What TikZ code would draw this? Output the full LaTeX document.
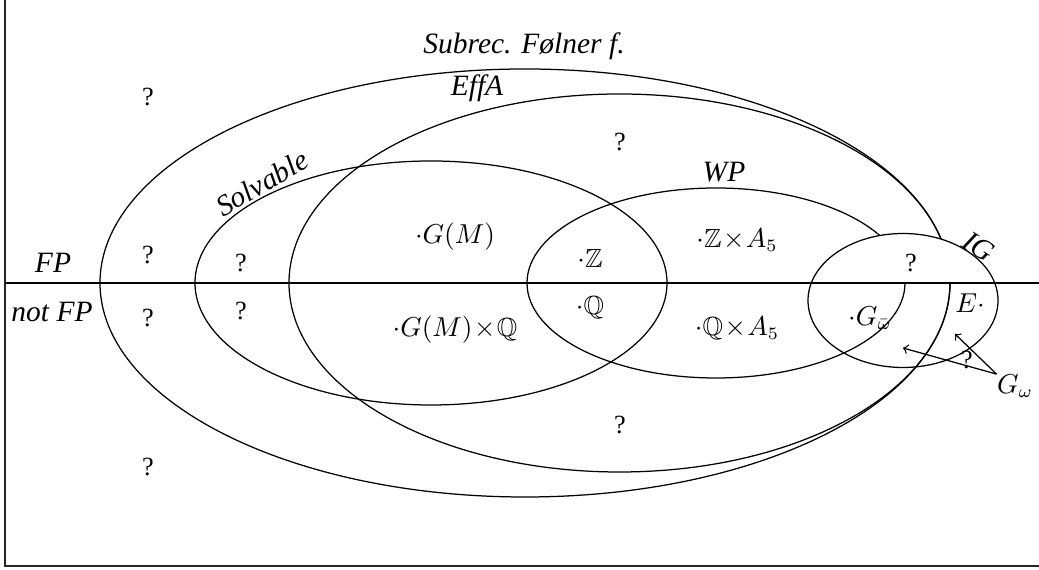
\documentclass[tikz,border=0pt]{standalone}
\usepackage{amssymb}
\usepackage{fontspec}
\setmainfont{Liberation Serif}
\begin{document}
\begin{tikzpicture}[x=0.4pt,y=-0.4pt,
  set/.style={line width=0.5pt},
  lbl/.style={font=\fontsize{11.8}{13}\selectfont\itshape, inner sep=0pt},
  qm/.style={font=\fontsize{10.5}{12}\selectfont, inner sep=0pt},
  elem/.style={font=\fontsize{10.5}{12}\selectfont, inner sep=0pt},
  frameline/.style={line width=0.7pt, draw=black!85}]
\useasboundingbox (0,0) rectangle (1039,570);
% frame
\coordinate (ftl) at (5,0);
\coordinate (fbl) at (5,566);
\coordinate (fbr) at (1039,566);
\draw[frameline] (ftl) -- (fbl) -- (fbr);
% sets
\draw[set] (525,283) ellipse [x radius=425, y radius=214];
\draw[set] (619.5,283) ellipse [x radius=330.5, y radius=189];
\draw[set] (431,283) ellipse [x radius=236, y radius=122];
\draw[set] (716,283) ellipse [x radius=189, y radius=95];
% upper half of IG blanked
\begin{scope}
  \clip (0,0) rectangle (1039,283);
  \fill[white] (903,300.5) ellipse [x radius=95, y radius=67];
\end{scope}
\draw[set] (903,300.5) ellipse [x radius=95, y radius=67];
% FP line
\coordinate (hl) at (5,283);
\coordinate (hr) at (1039,283);
\draw[set] (hl) -- (hr);
% labels
\node[lbl] (subrec) at (524,46) {Subrec. Følner f.};
\node[lbl] (effa) at (477,88) {EffA};
\node[lbl, rotate=30] (solv) at (262,183) {Solvable};
\node[lbl] (wp) at (724,172) {WP};
\node[lbl, rotate=-33] (ig) at (979,247) {IG};
\node[lbl] (fp) at (53,263) {FP};
\node[lbl] (nfp) at (52,312) {not FP};
% question marks
\node[qm] (q1) at (148,97) {?};
\node[qm] (q2) at (148,255) {?};
\node[qm] (q3) at (241,263) {?};
\node[qm] (q4) at (148,318) {?};
\node[qm] (q5) at (241,311) {?};
\node[qm] (q6) at (148,467) {?};
\node[qm] (q7) at (620,142) {?};
\node[qm] (q8) at (620,425) {?};
\node[qm] (q9) at (911,263) {?};
\node[qm] (q10) at (967,360) {?};
% elements
\node[elem] (gm) at (455,237) {$\cdot G(M)$};
\node[elem] (gmq) at (455,330) {$\cdot G(M)\!\times\!\mathbb{Q}$};
\node[elem] (z) at (590,258) {$\cdot\mathbb{Z}$};
\node[elem] (q) at (590,308) {$\cdot\mathbb{Q}$};
\node[elem] (za) at (737,240) {$\cdot\mathbb{Z}\!\times\! A_5$};
\node[elem] (qa) at (737,328) {$\cdot\mathbb{Q}\!\times\! A_5$};
\node[elem] (gbar) at (870,318) {$\cdot G_{\bar\omega}$};
\node[elem] (e) at (970,303) {$E\cdot$};
\node[elem] (gw) at (1015,386) {$G_\omega$};
% arrows
\coordinate (a1) at (903,348);
\coordinate (a2) at (955,334);
\draw[set,->] (gw.north west) -- (a1);
\draw[set,->] (gw.north west) -- (a2);
\end{tikzpicture}
\end{document}
